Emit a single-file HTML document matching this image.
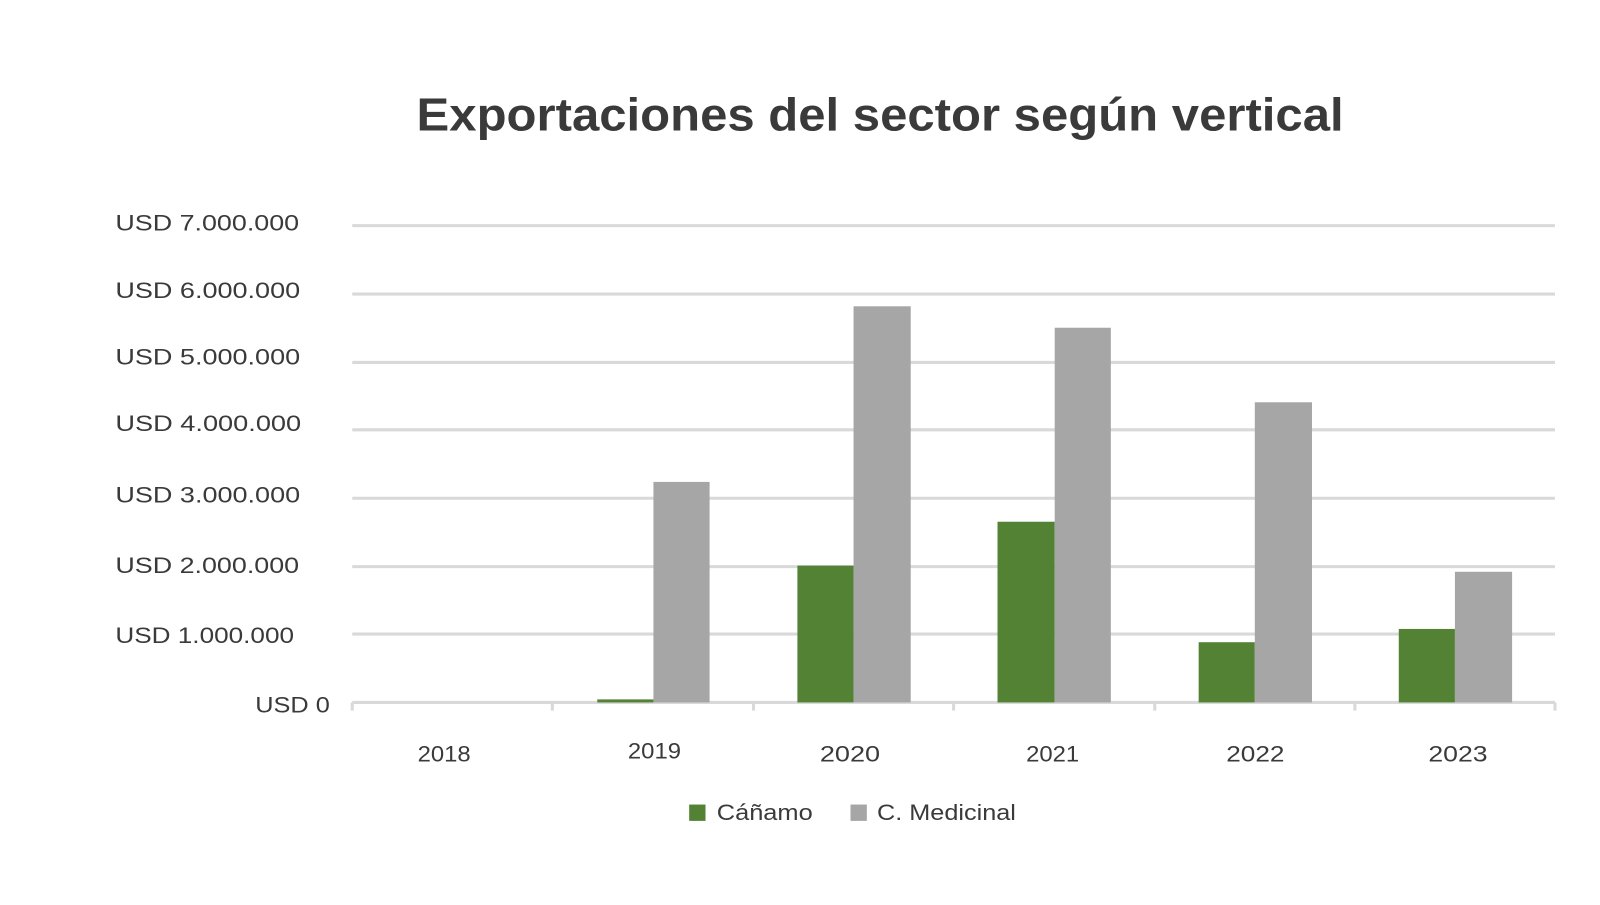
<!DOCTYPE html>
<html><head><meta charset="utf-8"><style>
body{margin:0;width:1600px;height:900px;background:#fff;overflow:hidden}
svg text{font-family:"Liberation Sans",sans-serif;fill:#3a3a3a}
</style></head><body>
<svg width="1600" height="900" xmlns="http://www.w3.org/2000/svg">
<g transform="scale(1.021)">
<text x="408" y="128" font-size="45" font-weight="bold" fill="#333" textLength="908" lengthAdjust="spacingAndGlyphs">Exportaciones del sector según vertical</text>
<g stroke="#d9d9d9" stroke-width="3">
<line x1="345" x2="1523" y1="221" y2="221"/>
<line x1="345" x2="1523" y1="288" y2="288"/>
<line x1="345" x2="1523" y1="355" y2="355"/>
<line x1="345" x2="1523" y1="421" y2="421"/>
<line x1="345" x2="1523" y1="488" y2="488"/>
<line x1="345" x2="1523" y1="555" y2="555"/>
<line x1="345" x2="1523" y1="621" y2="621"/>
<line x1="345" x2="1523" y1="688" y2="688"/>
<line x1="345" x2="345" y1="688" y2="696"/>
<line x1="541" x2="541" y1="688" y2="696"/>
<line x1="738" x2="738" y1="688" y2="696"/>
<line x1="934" x2="934" y1="688" y2="696"/>
<line x1="1131" x2="1131" y1="688" y2="696"/>
<line x1="1327" x2="1327" y1="688" y2="696"/>
<line x1="1523" x2="1523" y1="688" y2="696"/>
</g>
<g font-size="22">
<text x="113" y="226" textLength="180" lengthAdjust="spacingAndGlyphs">USD 7.000.000</text>
<text x="113" y="292" textLength="181" lengthAdjust="spacingAndGlyphs">USD 6.000.000</text>
<text x="113" y="357" textLength="181" lengthAdjust="spacingAndGlyphs">USD 5.000.000</text>
<text x="113" y="422" textLength="182" lengthAdjust="spacingAndGlyphs">USD 4.000.000</text>
<text x="113" y="492" textLength="181" lengthAdjust="spacingAndGlyphs">USD 3.000.000</text>
<text x="113" y="561" textLength="180" lengthAdjust="spacingAndGlyphs">USD 2.000.000</text>
<text x="113" y="630" textLength="175" lengthAdjust="spacingAndGlyphs">USD 1.000.000</text>
<text x="250" y="698" textLength="73" lengthAdjust="spacingAndGlyphs">USD 0</text>
</g>
<g fill="#548235">
<rect x="585" y="685" width="55" height="3"/>
<rect x="781" y="554" width="55" height="134"/>
<rect x="977" y="511" width="56" height="177"/>
<rect x="1174" y="629" width="55" height="59"/>
<rect x="1370" y="616" width="55" height="72"/>
</g>
<g fill="#a6a6a6">
<rect x="640" y="472" width="55" height="216"/>
<rect x="836" y="300" width="56" height="388"/>
<rect x="1033" y="321" width="55" height="367"/>
<rect x="1229" y="394" width="56" height="294"/>
<rect x="1425" y="560" width="56" height="128"/>
</g>
<g font-size="22">
<text x="409" y="746" textLength="52" lengthAdjust="spacingAndGlyphs">2018</text>
<text x="615" y="743" textLength="52" lengthAdjust="spacingAndGlyphs">2019</text>
<text x="803" y="746" textLength="59" lengthAdjust="spacingAndGlyphs">2020</text>
<text x="1005" y="746" textLength="52" lengthAdjust="spacingAndGlyphs">2021</text>
<text x="1201" y="746" textLength="57" lengthAdjust="spacingAndGlyphs">2022</text>
<text x="1399" y="746" textLength="58" lengthAdjust="spacingAndGlyphs">2023</text>
</g>
<rect x="675" y="788" width="16" height="16" fill="#548235"/>
<text x="702" y="803" font-size="22" textLength="94" lengthAdjust="spacingAndGlyphs">Cáñamo</text>
<rect x="833" y="788" width="16" height="16" fill="#a6a6a6"/>
<text x="859" y="803" font-size="22" textLength="136" lengthAdjust="spacingAndGlyphs">C. Medicinal</text>
</g>
</svg>
</body></html>
